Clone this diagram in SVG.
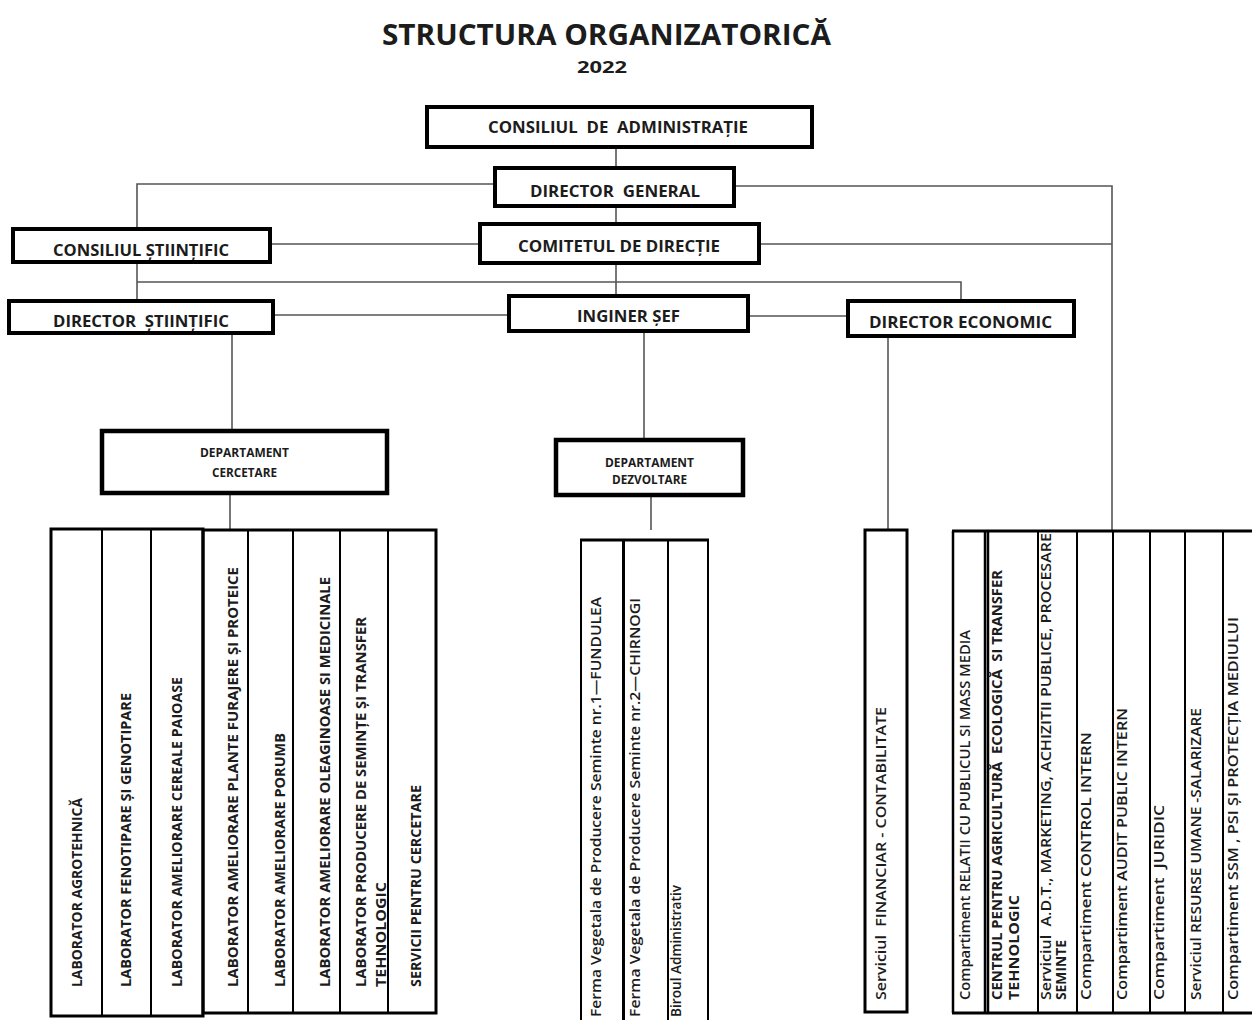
<svg xmlns="http://www.w3.org/2000/svg" width="1252" height="1020" viewBox="0 0 1252 1020">
<style>
.bg{fill:#fff}
.box{fill:#fff;stroke:#000;stroke-width:4}
.dep{fill:#fff;stroke:#000;stroke-width:4.5}
.cell{fill:#fff;stroke:#000;stroke-width:2}
.outer{fill:none;stroke:#000;stroke-width:3}
.conn{fill:none;stroke:#555;stroke-width:1.6}
.t{font-family:"Open Sans","Noto Sans",sans-serif;font-weight:bold;fill:#1c1c1c;white-space:pre}
.c{text-anchor:middle}
.h{font-size:16.5px}
.d{font-size:12px}
.v{font-size:13.5px}
.m{font-size:14.5px;font-weight:600}
</style>
<rect class="bg" x="0" y="0" width="1252" height="1020"/>
<g id="title">
<text class="t" x="382" y="45" font-size="28" textLength="449" lengthAdjust="spacingAndGlyphs">STRUCTURA ORGANIZATORICĂ</text>
<text class="t c" x="602" y="73" font-size="16" textLength="50" lengthAdjust="spacingAndGlyphs">2022</text>
</g>
<g id="connectors">
<path class="conn" d="M616,147 V168"/>
<path class="conn" d="M616,206 V224"/>
<path class="conn" d="M616,263 V295"/>
<path class="conn" d="M495,184 H137 V228"/>
<path class="conn" d="M734,186 H1112 V531"/>
<path class="conn" d="M480,244 H270"/>
<path class="conn" d="M759,244 H1112"/>
<path class="conn" d="M137,282 H961 V300"/>
<path class="conn" d="M137,262 V300"/>
<path class="conn" d="M273,315 H508"/>
<path class="conn" d="M748,316 H847"/>
<path class="conn" d="M232,333 V431"/>
<path class="conn" d="M644,331 V440"/>
<path class="conn" d="M230,493 V530"/>
<path class="conn" d="M651,495 V530"/>
<path class="conn" d="M888,337 V530"/>
</g>
<g id="consiliul-administratie">
<rect class="box" x="427" y="107" width="385" height="40"/>
<text class="t h" x="488" y="133" textLength="260" lengthAdjust="spacingAndGlyphs">CONSILIUL  DE  ADMINISTRAȚIE</text>
</g>
<g id="director-general">
<rect class="box" x="495" y="168" width="239" height="38"/>
<text class="t h" x="530" y="197" textLength="170" lengthAdjust="spacingAndGlyphs">DIRECTOR  GENERAL</text>
</g>
<g id="comitetul-directie">
<rect class="box" x="480" y="224" width="279" height="39"/>
<text class="t h" x="518" y="252" textLength="202" lengthAdjust="spacingAndGlyphs">COMITETUL DE DIRECȚIE</text>
</g>
<g id="consiliul-stiintific">
<rect class="box" x="13" y="229" width="257" height="33"/>
<text class="t h" x="53" y="256" textLength="176" lengthAdjust="spacingAndGlyphs">CONSILIUL ȘTIINȚIFIC</text>
</g>
<g id="director-stiintific">
<rect class="box" x="9" y="301" width="264" height="32"/>
<text class="t h" x="53" y="327" textLength="176" lengthAdjust="spacingAndGlyphs">DIRECTOR  ȘTIINȚIFIC</text>
</g>
<g id="inginer-sef">
<rect class="box" x="509" y="296" width="239" height="35"/>
<text class="t h" x="577" y="322" textLength="103" lengthAdjust="spacingAndGlyphs">INGINER ȘEF</text>
</g>
<g id="director-economic">
<rect class="box" x="848" y="301" width="226" height="35"/>
<text class="t h" x="869" y="328" textLength="183" lengthAdjust="spacingAndGlyphs">DIRECTOR ECONOMIC</text>
</g>
<g id="departament-cercetare">
<rect class="dep" x="102" y="431" width="285" height="62"/>
<text class="t d" x="200" y="457" textLength="89" lengthAdjust="spacingAndGlyphs">DEPARTAMENT</text>
<text class="t d" x="212" y="477" textLength="65" lengthAdjust="spacingAndGlyphs">CERCETARE</text>
</g>
<g id="departament-dezvoltare">
<rect class="dep" x="556" y="440" width="187" height="55"/>
<text class="t d" x="605" y="467" textLength="89" lengthAdjust="spacingAndGlyphs">DEPARTAMENT</text>
<text class="t d" x="612" y="484" textLength="75" lengthAdjust="spacingAndGlyphs">DEZVOLTARE</text>
</g>
<g id="laboratoare-cercetare">
<rect class="cell" x="51" y="529" width="51" height="487"/>
<rect class="cell" x="102" y="529" width="49" height="487"/>
<rect class="cell" x="151" y="529" width="52" height="487"/>
<rect class="cell" x="203" y="530" width="45" height="483"/>
<rect class="cell" x="248" y="530" width="45" height="483"/>
<rect class="cell" x="293" y="530" width="47" height="483"/>
<rect class="cell" x="340" y="530" width="48" height="483"/>
<rect class="cell" x="388" y="530" width="48" height="483"/>
<rect class="outer" x="51" y="529" width="152" height="487"/>
<rect class="outer" x="203" y="530" width="233" height="483"/>
<text class="t v" transform="translate(82,987) rotate(-90)" textLength="189" lengthAdjust="spacingAndGlyphs">LABORATOR AGROTEHNICĂ</text>
<text class="t v" transform="translate(131,987) rotate(-90)" textLength="294" lengthAdjust="spacingAndGlyphs">LABORATOR FENOTIPARE ȘI GENOTIPARE</text>
<text class="t v" transform="translate(182,987) rotate(-90)" textLength="310" lengthAdjust="spacingAndGlyphs">LABORATOR AMELIORARE CEREALE PAIOASE</text>
<text class="t v" transform="translate(238,987) rotate(-90)" textLength="420" lengthAdjust="spacingAndGlyphs">LABORATOR AMELIORARE PLANTE FURAJERE ȘI PROTEICE</text>
<text class="t v" transform="translate(285,987) rotate(-90)" textLength="254" lengthAdjust="spacingAndGlyphs">LABORATOR AMELIORARE PORUMB</text>
<text class="t v" transform="translate(330,987) rotate(-90)" textLength="410" lengthAdjust="spacingAndGlyphs">LABORATOR AMELIORARE OLEAGINOASE SI MEDICINALE</text>
<text class="t v" transform="translate(366,987) rotate(-90)" textLength="370" lengthAdjust="spacingAndGlyphs">LABORATOR PRODUCERE DE SEMINȚE ȘI TRANSFER</text>
<text class="t v" transform="translate(386,987) rotate(-90)" textLength="105" lengthAdjust="spacingAndGlyphs">TEHNOLOGIC</text>
<text class="t v" transform="translate(421,987) rotate(-90)" textLength="202" lengthAdjust="spacingAndGlyphs">SERVICII PENTRU CERCETARE</text>
</g>
<g id="ferme-dezvoltare">
<rect class="cell" x="581" y="540" width="42" height="490"/>
<rect class="cell" x="624" y="540" width="44" height="490"/>
<rect class="cell" x="668" y="540" width="40" height="490"/>
<path d="M580,540 H709" stroke="#000" stroke-width="3"/>
<text class="t m" transform="translate(601,1017) rotate(-90)" textLength="420" lengthAdjust="spacingAndGlyphs">Ferma Vegetala de Producere Seminte nr.1—FUNDULEA</text>
<text class="t m" transform="translate(640,1017) rotate(-90)" textLength="419" lengthAdjust="spacingAndGlyphs">Ferma Vegetala de Producere Seminte nr.2—CHIRNOGI</text>
<text class="t m" transform="translate(681,1017) rotate(-90)" textLength="132" lengthAdjust="spacingAndGlyphs">Biroul Administrativ</text>
</g>
<g id="serviciul-financiar">
<rect class="outer" x="865" y="530" width="42" height="482" fill="#fff"/>
<text class="t m" transform="translate(886,1000) rotate(-90)" textLength="293" lengthAdjust="spacingAndGlyphs">Serviciul  FINANCIAR - CONTABILITATE</text>
</g>
<g id="compartimente">
<rect class="cell" x="953" y="531" width="32" height="482"/>
<rect class="cell" x="988" y="531" width="50" height="482"/>
<rect class="cell" x="1038" y="531" width="39" height="482"/>
<rect class="cell" x="1077" y="531" width="36" height="482"/>
<rect class="cell" x="1113" y="531" width="37" height="482"/>
<rect class="cell" x="1150" y="531" width="35" height="482"/>
<rect class="cell" x="1185" y="531" width="38" height="482"/>
<rect class="cell" x="1223" y="531" width="40" height="482"/>
<path d="M952,531 H1252" stroke="#000" stroke-width="3"/>
<path d="M952,1013 H1252" stroke="#000" stroke-width="3"/>
<path d="M953,531 V1013 M985,531 V1013 M988,531 V1013" stroke="#000" stroke-width="2.5"/>
<text class="t m" transform="translate(970,1000) rotate(-90)" textLength="370" lengthAdjust="spacingAndGlyphs">Compartiment RELATII CU PUBLICUL SI MASS MEDIA</text>
<text class="t v" transform="translate(1002,1000) rotate(-90)" textLength="430" lengthAdjust="spacingAndGlyphs">CENTRUL PENTRU AGRICULTURĂ  ECOLOGICĂ  SI TRANSFER</text>
<text class="t v" transform="translate(1019,1000) rotate(-90)" textLength="105" lengthAdjust="spacingAndGlyphs">TEHNOLOGIC</text>
<text class="t m" transform="translate(1051,1000) rotate(-90)" textLength="467" lengthAdjust="spacingAndGlyphs">Serviciul  A.D.T., MARKETING, ACHIZITII PUBLICE, PROCESARE</text>
<text class="t v" transform="translate(1066,1000) rotate(-90)" textLength="60" lengthAdjust="spacingAndGlyphs">SEMINTE</text>
<text class="t m" transform="translate(1091,1000) rotate(-90)" textLength="268" lengthAdjust="spacingAndGlyphs">Compartiment CONTROL INTERN</text>
<text class="t m" transform="translate(1127,1000) rotate(-90)" textLength="292" lengthAdjust="spacingAndGlyphs">Compartiment AUDIT PUBLIC INTERN</text>
<text class="t m" transform="translate(1164,1000) rotate(-90)" textLength="195" lengthAdjust="spacingAndGlyphs">Compartiment  JURIDIC</text>
<text class="t m" transform="translate(1201,1000) rotate(-90)" textLength="292" lengthAdjust="spacingAndGlyphs">Serviciul RESURSE UMANE -SALARIZARE</text>
<text class="t m" transform="translate(1238,1000) rotate(-90)" textLength="383" lengthAdjust="spacingAndGlyphs">Compartiment SSM , PSI ȘI PROTECȚIA MEDIULUI</text>
</g>
</svg>
